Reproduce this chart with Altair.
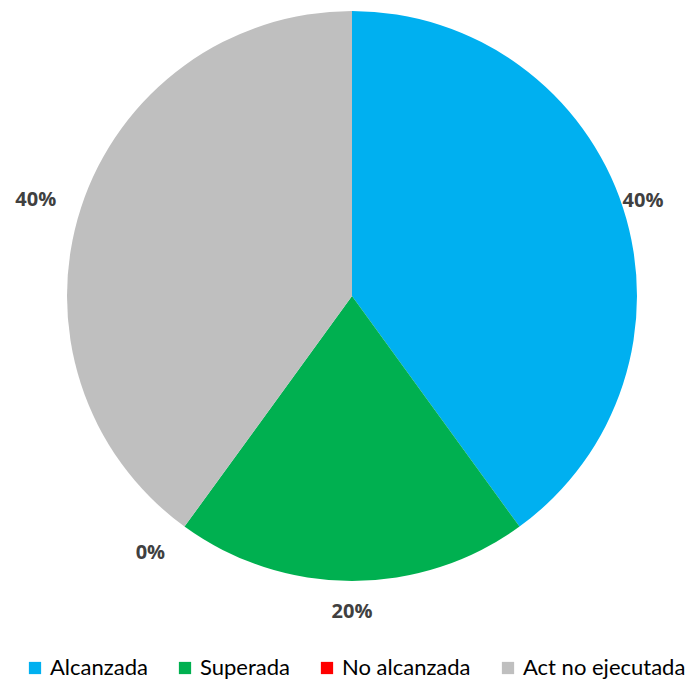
import altair as alt
import pandas as pd

categories = ["Alcanzada", "Superada", "No alcanzada", "Act no ejecutada"]
values = [40, 20, 0, 40]
labels = ["40%", "20%", "0%", "40%"]
colors = ["#00B0F0", "#00B050", "#FF0000", "#BFBFBF"]

df = pd.DataFrame({"cat": categories, "val": values, "lab": labels,
                   "order": list(range(len(categories)))})

pie = alt.Chart(df).mark_arc(outerRadius=285).encode(
    theta=alt.Theta("val:Q", stack=True),
    order=alt.Order("order:Q"),
    color=alt.Color("cat:N", sort=categories,
                    scale=alt.Scale(domain=categories, range=colors),
                    legend=alt.Legend(title=None, orient="none", direction="horizontal",
                                      legendX=9, legendY=649, columns=4,
                                      columnPadding=26, symbolType="square",
                                      symbolSize=150, symbolStrokeWidth=0,
                                      labelFont="Lato", labelFontSize=22,
                                      labelColor="#000000", labelOffset=4,
                                      labelLimit=300))
)

lab_base = alt.Chart(df).transform_window(
    cum="sum(val)", sort=[alt.SortField("order")]
).transform_joinaggregate(
    total="sum(val)"
).transform_calculate(
    ang="(datum.cum - datum.val / 2) / datum.total * 2 * PI",
    r="datum.order == 0 ? 306 : datum.order == 1 ? 316 : datum.order == 2 ? 318 : 311",
)

txt = dict(font="Open Sans", fontSize=20, fontWeight="bold", color="#404040")
enc = dict(
    text="lab:N",
    theta=alt.Theta("ang:Q", scale=None, stack=None),
    radius=alt.Radius("r:Q", scale=None),
)

right_labels = lab_base.transform_filter("datum.order < 2").mark_text(
    align="center", **txt).encode(**enc)
left_labels = lab_base.transform_filter("datum.order >= 2").mark_text(
    align="right", **txt).encode(**enc)

chart = alt.layer(pie, right_labels, left_labels).properties(
    width=674, height=576,
    autosize=alt.AutoSizeParams(type="none"),
    padding={"left": 7, "top": 0, "right": 0, "bottom": 96},
).configure_view(stroke=None)

chart.save("out.html", embed_options={"renderer": "svg", "actions": False})
